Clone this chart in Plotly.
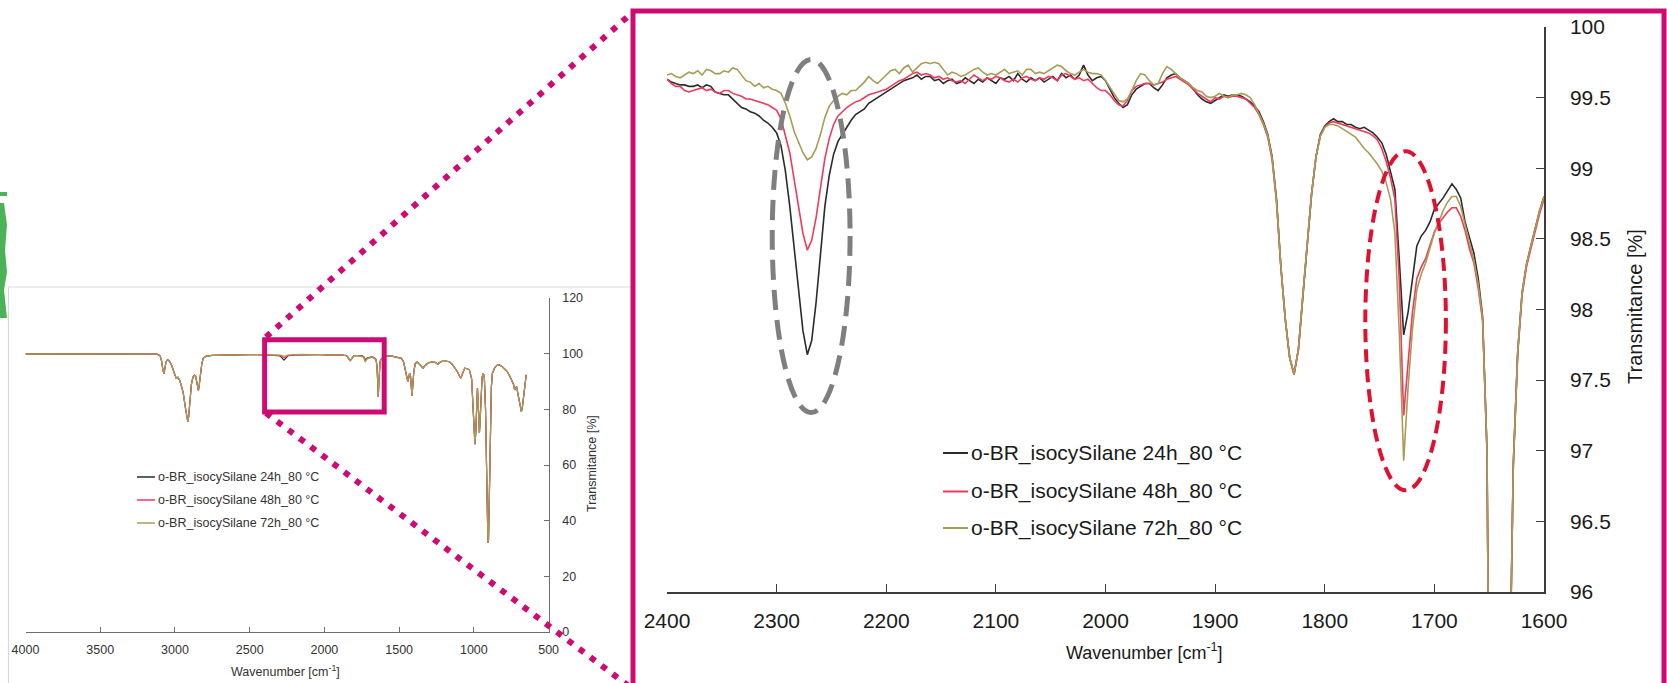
import plotly.graph_objects as go

W, H = 1667, 683

# ---------------- data ----------------
# Wavenumber sampling of the expanded 2400-1600 cm-1 window (4 cm-1 steps)
wn_zoom = list(range(2400, 1599, -4))

t_24h = [
    99.63, 99.61, 99.60, 99.59, 99.59, 99.58, 99.58, 99.59, 99.57, 99.59,
    99.58, 99.54, 99.53, 99.52, 99.52, 99.49, 99.46, 99.43, 99.42, 99.40,
    99.39, 99.37, 99.34, 99.32, 99.29, 99.25, 99.16, 98.98, 98.73, 98.43,
    98.14, 97.85, 97.68, 97.78, 98.05, 98.40, 98.73, 98.95, 99.10, 99.19,
    99.24, 99.29, 99.34, 99.38, 99.40, 99.42, 99.46, 99.48, 99.50, 99.52,
    99.54, 99.56, 99.58, 99.60, 99.62, 99.63, 99.64, 99.66, 99.63, 99.65,
    99.65, 99.62, 99.63, 99.60, 99.62, 99.63, 99.60, 99.61, 99.64, 99.62,
    99.60, 99.63, 99.61, 99.64, 99.62, 99.60, 99.64, 99.63, 99.65, 99.62,
    99.67, 99.63, 99.61, 99.64, 99.62, 99.64, 99.61, 99.63, 99.65, 99.62,
    99.67, 99.64, 99.66, 99.63, 99.66, 99.73, 99.66, 99.62, 99.64, 99.65,
    99.62, 99.56, 99.50, 99.46, 99.43, 99.45, 99.52, 99.56, 99.58, 99.60,
    99.60, 99.57, 99.55, 99.59, 99.64, 99.66, 99.67, 99.64, 99.62, 99.60,
    99.56, 99.52, 99.49, 99.47, 99.46, 99.48, 99.50, 99.52, 99.51, 99.52,
    99.52, 99.51, 99.49, 99.47, 99.44, 99.40, 99.33, 99.24, 99.08, 98.78,
    98.30, 97.93, 97.66, 97.54, 97.72, 98.10, 98.45, 98.82, 99.08, 99.24,
    99.30, 99.33, 99.35, 99.33, 99.33, 99.31, 99.31, 99.29, 99.28, 99.29,
    99.27, 99.25, 99.22, 99.18, 99.10, 98.98, 98.85, 98.35, 97.82, 97.98,
    98.22, 98.45, 98.52, 98.56, 98.62, 98.71, 98.75, 98.79, 98.84, 98.89,
    98.85, 98.79, 98.62, 98.50, 98.40, 98.22, 97.95, 97.00, 95.20, 90.50,
    84.50, 89.00, 95.00, 96.90, 97.70, 98.12, 98.32, 98.45, 98.58, 98.70,
    98.80,
]

t_48h = [
    99.63, 99.60, 99.58, 99.58, 99.55, 99.54, 99.55, 99.56, 99.57, 99.55,
    99.56, 99.54, 99.53, 99.55, 99.55, 99.53, 99.52, 99.51, 99.49, 99.49,
    99.48, 99.47, 99.46, 99.45, 99.43, 99.41, 99.35, 99.23, 99.11, 98.92,
    98.74, 98.54, 98.42, 98.49, 98.65, 98.87, 99.07, 99.21, 99.31, 99.37,
    99.40, 99.43, 99.45, 99.47, 99.48, 99.50, 99.52, 99.53, 99.54, 99.55,
    99.56, 99.58, 99.60, 99.62, 99.63, 99.65, 99.67, 99.68, 99.66, 99.67,
    99.66, 99.64, 99.65, 99.63, 99.64, 99.62, 99.61, 99.62, 99.60, 99.63,
    99.66, 99.64, 99.62, 99.64, 99.63, 99.65, 99.64, 99.62, 99.61, 99.63,
    99.61, 99.64, 99.65, 99.63, 99.62, 99.64, 99.63, 99.65, 99.64, 99.62,
    99.66, 99.67, 99.65, 99.63, 99.64, 99.62, 99.63, 99.60, 99.57, 99.55,
    99.55, 99.52, 99.48, 99.45, 99.44, 99.48, 99.55, 99.58, 99.59, 99.60,
    99.60, 99.59, 99.60, 99.61, 99.63, 99.64, 99.65, 99.63, 99.61, 99.59,
    99.56, 99.53, 99.51, 99.49, 99.47, 99.50, 99.49, 99.51, 99.50, 99.51,
    99.51, 99.50, 99.49, 99.46, 99.43, 99.38, 99.31, 99.22, 99.06, 98.76,
    98.30, 97.93, 97.66, 97.54, 97.72, 98.10, 98.45, 98.82, 99.08, 99.23,
    99.29, 99.32, 99.33, 99.32, 99.31, 99.30, 99.29, 99.28, 99.27, 99.26,
    99.25, 99.23, 99.20, 99.14, 99.05, 98.93, 98.78, 98.20, 97.25, 97.62,
    97.98, 98.22, 98.30, 98.36, 98.45, 98.55, 98.61, 98.65, 98.69, 98.72,
    98.72, 98.66, 98.56, 98.43, 98.33, 98.15, 97.92, 97.00, 95.20, 90.50,
    84.50, 89.00, 95.00, 96.90, 97.68, 98.10, 98.30, 98.43, 98.56, 98.68,
    98.78,
]

t_72h = [
    99.66, 99.67, 99.65, 99.64, 99.66, 99.68, 99.67, 99.69, 99.66, 99.70,
    99.69, 99.67, 99.67, 99.69, 99.68, 99.71, 99.70, 99.66, 99.62, 99.61,
    99.58, 99.60, 99.57, 99.58, 99.56, 99.55, 99.53, 99.46, 99.37, 99.26,
    99.18, 99.11, 99.06, 99.08, 99.14, 99.24, 99.36, 99.44, 99.48, 99.51,
    99.53, 99.52, 99.55, 99.55, 99.58, 99.61, 99.65, 99.62, 99.60, 99.63,
    99.66, 99.69, 99.70, 99.67, 99.71, 99.73, 99.68, 99.71, 99.74, 99.75,
    99.74, 99.75, 99.74, 99.70, 99.66, 99.68, 99.67, 99.65, 99.66, 99.68,
    99.70, 99.71, 99.68, 99.66, 99.67, 99.66, 99.68, 99.70, 99.67, 99.68,
    99.69, 99.66, 99.70, 99.70, 99.67, 99.68, 99.67, 99.69, 99.71, 99.73,
    99.72, 99.69, 99.67, 99.66, 99.68, 99.70, 99.68, 99.67, 99.67, 99.66,
    99.62, 99.57, 99.52, 99.48, 99.47, 99.49, 99.55, 99.62, 99.67, 99.66,
    99.62, 99.59, 99.60, 99.67, 99.72, 99.70, 99.67, 99.64, 99.62, 99.60,
    99.57, 99.55, 99.54, 99.51, 99.50, 99.51, 99.53, 99.51, 99.50, 99.52,
    99.52, 99.53, 99.52, 99.50, 99.45, 99.39, 99.32, 99.23, 99.07, 98.77,
    98.30, 97.93, 97.66, 97.54, 97.72, 98.10, 98.45, 98.82, 99.08, 99.23,
    99.29, 99.31, 99.31, 99.30, 99.28, 99.26, 99.24, 99.22, 99.18, 99.14,
    99.11, 99.07, 99.03, 98.98, 98.90, 98.78, 98.54, 97.83, 96.93, 97.45,
    97.86, 98.14, 98.25, 98.33, 98.43, 98.54, 98.62, 98.70, 98.76, 98.80,
    98.80, 98.73, 98.60, 98.47, 98.35, 98.18, 97.93, 97.00, 95.20, 90.50,
    84.50, 89.00, 95.00, 96.90, 97.70, 98.12, 98.32, 98.45, 98.58, 98.70,
    98.80,
]

# Remaining parts of the full spectrum (practically identical for all samples)
wn_high = [4000, 3800, 3600, 3400, 3200, 3120, 3100, 3090, 3080, 3074,
           3068, 3060, 3050, 3040, 3025, 3010, 3000, 2992, 2980, 2970,
           2960, 2945, 2930, 2920, 2914, 2908, 2900, 2890, 2880, 2870,
           2862, 2855, 2848, 2843, 2838, 2830, 2820, 2810, 2790, 2750,
           2700, 2600, 2500, 2450]
t_high = [99.9, 99.9, 99.9, 99.9, 99.9, 99.8, 99.3, 97.5, 94.0, 92.8,
          94.5, 97.0, 97.9, 97.5, 96.2, 94.0, 92.5, 91.2, 91.5, 90.6,
          89.0, 86.0, 80.5, 76.5, 75.6, 77.5, 83.0, 89.0, 91.5, 92.3,
          92.0, 89.5, 87.0, 86.8, 88.5, 93.0, 96.5, 98.4, 99.1, 99.4,
          99.5, 99.6, 99.65, 99.65]

wn_low = [1596, 1580, 1560, 1540, 1520, 1500, 1485, 1470, 1460, 1450,
          1442, 1436, 1430, 1424, 1418, 1414, 1410, 1402, 1392, 1380,
          1370, 1360, 1350, 1340, 1330, 1318, 1300, 1280, 1260, 1250,
          1241, 1230, 1215, 1190, 1164, 1145, 1125, 1110, 1095, 1087,
          1078, 1061, 1045, 1030, 1015, 1005, 998, 993, 988, 982,
          976, 971, 966, 963, 959, 952, 945, 937, 930, 922,
          915, 910, 906, 902, 897, 890, 883, 876, 860, 845,
          829, 810, 795, 778, 760, 745, 735, 727, 720, 714,
          705, 695, 688, 682, 676, 668, 660, 650]
t_low = [98.9, 99.1, 99.2, 99.0, 98.8, 98.6, 98.3, 97.0, 94.5, 91.5,
         90.0, 91.2, 93.0, 92.0, 87.0, 84.8, 87.5, 93.5, 96.5, 97.0,
         96.5, 96.0, 95.3, 94.8, 95.5, 96.2, 96.8, 97.0, 96.9, 96.5,
         96.2, 96.8, 97.2, 97.3, 97.1, 96.2, 94.8, 93.5, 91.8, 91.2,
         92.5, 94.8, 94.6, 94.2, 91.0, 82.0, 72.0, 67.5, 71.0, 80.0,
         87.6, 82.0, 73.0, 71.5, 75.0, 86.0, 91.5, 93.0, 91.5, 80.0,
         55.0, 38.0, 32.0, 33.0, 48.0, 75.0, 88.0, 93.0, 95.0, 95.8,
         96.0, 95.3, 94.5, 93.6, 92.0, 90.5, 89.0, 87.0, 87.8, 88.2,
         85.5, 82.0, 80.0, 79.2, 80.5, 85.0, 89.0, 92.4]

sample_names = ["o-BR_isocySilane 24h_80 °C",
                "o-BR_isocySilane 48h_80 °C",
                "o-BR_isocySilane 72h_80 °C"]
sample_values = [t_24h, t_48h, t_72h]
sample_colors = ["#2b2b2b", "#ee3a5c", "#a89c55"]

# ---------------- helpers ----------------
FONT = "Liberation Sans, Arial, sans-serif"
MAGENTA = "#cf0a72"


def fx(x):
    return x / W


def fy(y):
    return 1 - y / H


fig = go.Figure()

# overview spectrum (left panel)
for name, vals, col in zip(sample_names, sample_values, sample_colors):
    fig.add_trace(go.Scatter(
        x=wn_high + wn_zoom + wn_low, y=t_high + vals + t_low,
        xaxis="x2", yaxis="y2", mode="lines", name=name,
        line=dict(color=col, width=1.2), showlegend=False,
        hoverinfo="skip"))

# expanded region (right panel)
for name, vals, col in zip(sample_names, sample_values, sample_colors):
    fig.add_trace(go.Scatter(
        x=wn_zoom, y=vals, xaxis="x", yaxis="y", mode="lines", name=name,
        line=dict(color=col, width=1.6), showlegend=False))

AX_R = "#3c3c3c"
AX_L = "#6e6e6e"

axis_common = dict(showgrid=False, zeroline=False, showline=True,
                   ticks="inside", automargin=False)

shapes = []
annotations = []

# frame around the left panel (right edge runs under the magenta frame)
shapes.append(dict(type="rect", xref="paper", yref="paper",
                   x0=fx(8.5), x1=fx(633), y0=fy(287), y1=fy(700),
                   line=dict(color="#d9d9d9", width=1.2), layer="below"))

# fragment of a neighbouring green graph at the left edge
shapes.append(dict(type="path", xref="paper", yref="paper",
                   path=("M {a},{b} L {c},{b} L {c},{d} L {a},{d} Z "
                         "M {a},{e} L {g},{e} L {c},{f} L {h},{i} L {c},{j} "
                         "L {g},{k} L {c},{m} L {a},{m} Z").format(
                       a=fx(0), b=fy(192), c=fx(7), d=fy(196),
                       e=fy(203), f=fy(225), g=fx(4), h=fx(5), i=fy(250),
                       j=fy(272), k=fy(290), m=fy(318)),
                   fillcolor="#4cb257", line=dict(width=0)))

# zoom markers: small box, dotted connectors and big frame
shapes.append(dict(type="rect", xref="x2", yref="y2",
                   x0=2400, x1=1600, y0=79, y1=105,
                   line=dict(color=MAGENTA, width=5)))
shapes.append(dict(type="line", xref="paper", yref="paper",
                   x0=fx(266), y0=fy(337), x1=fx(634), y1=fy(11),
                   line=dict(color=MAGENTA, width=6, dash="6px,8px")))
shapes.append(dict(type="line", xref="paper", yref="paper",
                   x0=fx(266), y0=fy(413), x1=fx(634), y1=fy(690),
                   line=dict(color=MAGENTA, width=6, dash="6px,8px")))
shapes.append(dict(type="rect", xref="paper", yref="paper",
                   x0=fx(633), x1=fx(1664), y0=fy(11), y1=fy(700),
                   line=dict(color=MAGENTA, width=5)))

# highlighted bands in the expanded view
shapes.append(dict(type="circle", xref="x", yref="y",
                   x0=2304, x1=2233, y0=97.27, y1=99.77,
                   line=dict(color="#7f7f7f", width=5, dash="20px,10px")))
shapes.append(dict(type="circle", xref="x", yref="y",
                   x0=1763, x1=1689.5, y0=96.72, y1=99.12,
                   line=dict(color="#e0102f", width=4, dash="13px,7px")))

# legend of the expanded view
for i, (name, col) in enumerate(zip(sample_names, sample_colors)):
    yy = [453, 491.5, 528][i]
    shapes.append(dict(type="line", xref="paper", yref="paper",
                       x0=fx(943), x1=fx(968), y0=fy(yy), y1=fy(yy),
                       line=dict(color=col, width=2)))
    annotations.append(dict(xref="paper", yref="paper", x=fx(969), y=fy(yy),
                            text=name, showarrow=False, xanchor="left",
                            yanchor="middle",
                            font=dict(family=FONT, size=21, color="#1a1a1a")))

# legend of the overview
for i, (name, col) in enumerate(zip(sample_names, sample_colors)):
    yy = [477, 500, 523][i]
    shapes.append(dict(type="line", xref="paper", yref="paper",
                       x0=fx(137), x1=fx(155), y0=fy(yy), y1=fy(yy),
                       line=dict(color=col, width=1.5)))
    annotations.append(dict(xref="paper", yref="paper", x=fx(155.5), y=fy(yy),
                            text=name, showarrow=False, xanchor="left",
                            yanchor="middle",
                            font=dict(family=FONT, size=12.5, color="#333333")))

# axis titles
annotations += [
    dict(xref="paper", yref="paper", x=fx(1144), y=fy(651),
         xanchor="center", yanchor="middle",
         text="Wavenumber [cm<sup>-1</sup>]", showarrow=False,
         font=dict(family=FONT, size=18, color="#1a1a1a")),
    dict(xref="paper", yref="paper", x=fx(1635), y=fy(307),
         xanchor="center", yanchor="middle",
         text="Transmitance [%]", showarrow=False, textangle=-90,
         font=dict(family=FONT, size=20, color="#1a1a1a")),
    dict(xref="paper", yref="paper", x=fx(285.5), y=fy(671),
         xanchor="center", yanchor="middle",
         text="Wavenumber [cm<sup>-1</sup>]", showarrow=False,
         font=dict(family=FONT, size=12.5, color="#333333")),
    dict(xref="paper", yref="paper", x=fx(592), y=fy(464),
         xanchor="center", yanchor="middle",
         text="Transmitance [%]", showarrow=False, textangle=-90,
         font=dict(family=FONT, size=12.5, color="#333333")),
]

fig.update_layout(
    template="none",
    width=W, height=H,
    margin=dict(l=0, r=0, t=0, b=0, pad=0, autoexpand=False),
    paper_bgcolor="white", plot_bgcolor="rgba(0,0,0,0)",
    showlegend=False,
    font=dict(family=FONT),
    xaxis=dict(domain=[fx(667), fx(1544)], anchor="y", range=[2400, 1600],
               tick0=0, dtick=100, ticklen=8, tickwidth=1.3, tickcolor=AX_R,
               linecolor=AX_R, linewidth=1.5, ticklabelstandoff=9,
               tickfont=dict(family=FONT, size=21, color="#1a1a1a"),
               **axis_common),
    yaxis=dict(domain=[fy(592), fy(27)], anchor="x", side="right",
               range=[96, 100], tick0=0, dtick=0.5, ticklen=8, tickwidth=1.3,
               tickcolor=AX_R, linecolor=AX_R, linewidth=1.5,
               ticklabelstandoff=20,
               tickfont=dict(family=FONT, size=21, color="#1a1a1a"),
               **axis_common),
    xaxis2=dict(domain=[fx(25.5), fx(548.6)], anchor="y2", range=[4000, 500],
                tick0=0, dtick=500, ticklen=5, tickwidth=1, tickcolor=AX_L,
                linecolor=AX_L, linewidth=1.2, ticklabelstandoff=6,
                tickfont=dict(family=FONT, size=12.5, color="#333333"),
                **axis_common),
    yaxis2=dict(domain=[fy(632), fy(298)], anchor="x2", side="right",
                range=[0, 120], tick0=0, dtick=20, ticklen=5, tickwidth=1,
                tickcolor=AX_L, linecolor=AX_L, linewidth=1.2,
                ticklabelstandoff=10,
                tickfont=dict(family=FONT, size=12.5, color="#333333"),
                **axis_common),
    shapes=shapes,
    annotations=annotations,
)

fig.write_html("out.html")
